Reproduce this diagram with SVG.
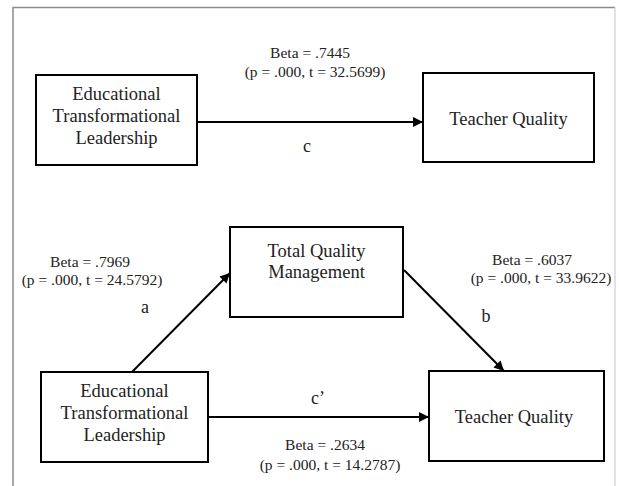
<svg xmlns="http://www.w3.org/2000/svg" width="619" height="486" viewBox="0 0 619 486">
<style>
.box{fill:#fff;stroke:#000;stroke-width:2}
text{font-family:'Liberation Serif',Tinos,'DejaVu Serif',serif;fill:#222;text-anchor:middle}
.t{font-size:18.5px}
.s{font-size:15.5px}
.l{font-size:18px}
.e{stroke:#000;stroke-width:2;fill:none;marker-end:url(#ah)}
</style>
<defs>
<marker id="ah" viewBox="0 0 10 10" refX="10" refY="5" markerWidth="5.5" markerHeight="5" markerUnits="strokeWidth" orient="auto">
<path d="M0,0 L10,5 L0,10 z" fill="#000"/>
</marker>
</defs>
<rect width="619" height="486" fill="#fff"/>
<path d="M13,486 V7.5 H615" fill="none" stroke="#8c8c8c" stroke-width="1.5"/>
<path d="M615,7.5 V486" fill="none" stroke="#d8d8d8" stroke-width="1.5"/>

<g id="connectors">
<line class="e" x1="197" y1="122" x2="423" y2="122"/>
<line class="e" x1="132" y1="372" x2="230" y2="273"/>
<line class="e" x1="404" y1="270" x2="504" y2="371"/>
<line class="e" x1="208" y1="417" x2="429" y2="417"/>
</g>

<g id="etl1">
<rect class="box" x="36" y="75" width="161" height="90"/>
<text class="t" x="116.5" y="100">Educational</text>
<text class="t" x="116.5" y="122">Transformational</text>
<text class="t" x="116.5" y="144">Leadership</text>
</g>
<g id="tq1">
<rect class="box" x="423" y="73" width="171" height="89"/>
<text class="t" x="508.5" y="125">Teacher Quality</text>
</g>
<g id="tqm">
<rect class="box" x="230" y="227" width="173" height="90"/>
<text class="t" x="316.5" y="257">Total Quality</text>
<text class="t" x="316.5" y="278">Management</text>
</g>
<g id="etl2">
<rect class="box" x="41" y="372" width="167" height="90"/>
<text class="t" x="124.5" y="397">Educational</text>
<text class="t" x="124.5" y="419">Transformational</text>
<text class="t" x="124.5" y="441">Leadership</text>
</g>
<g id="tq2">
<rect class="box" x="429" y="371" width="175" height="90"/>
<text class="t" x="514" y="423">Teacher Quality</text>
</g>

<g id="labels">
<text class="s" x="310" y="58">Beta = .7445</text>
<text class="s" x="315" y="77">(p = .000, t = 32.5699)</text>
<text class="l" x="307" y="152">c</text>
<text class="s" x="90" y="267">Beta = .7969</text>
<text class="s" x="92" y="285">(p = .000, t = 24.5792)</text>
<text class="l" x="145" y="313">a</text>
<text class="s" x="532" y="265">Beta = .6037</text>
<text class="s" x="541" y="283">(p = .000, t = 33.9622)</text>
<text class="l" x="486" y="322">b</text>
<text class="l" x="318" y="404">c’</text>
<text class="s" x="325" y="450">Beta = .2634</text>
<text class="s" x="330" y="470">(p = .000, t = 14.2787)</text>
</g>
</svg>
